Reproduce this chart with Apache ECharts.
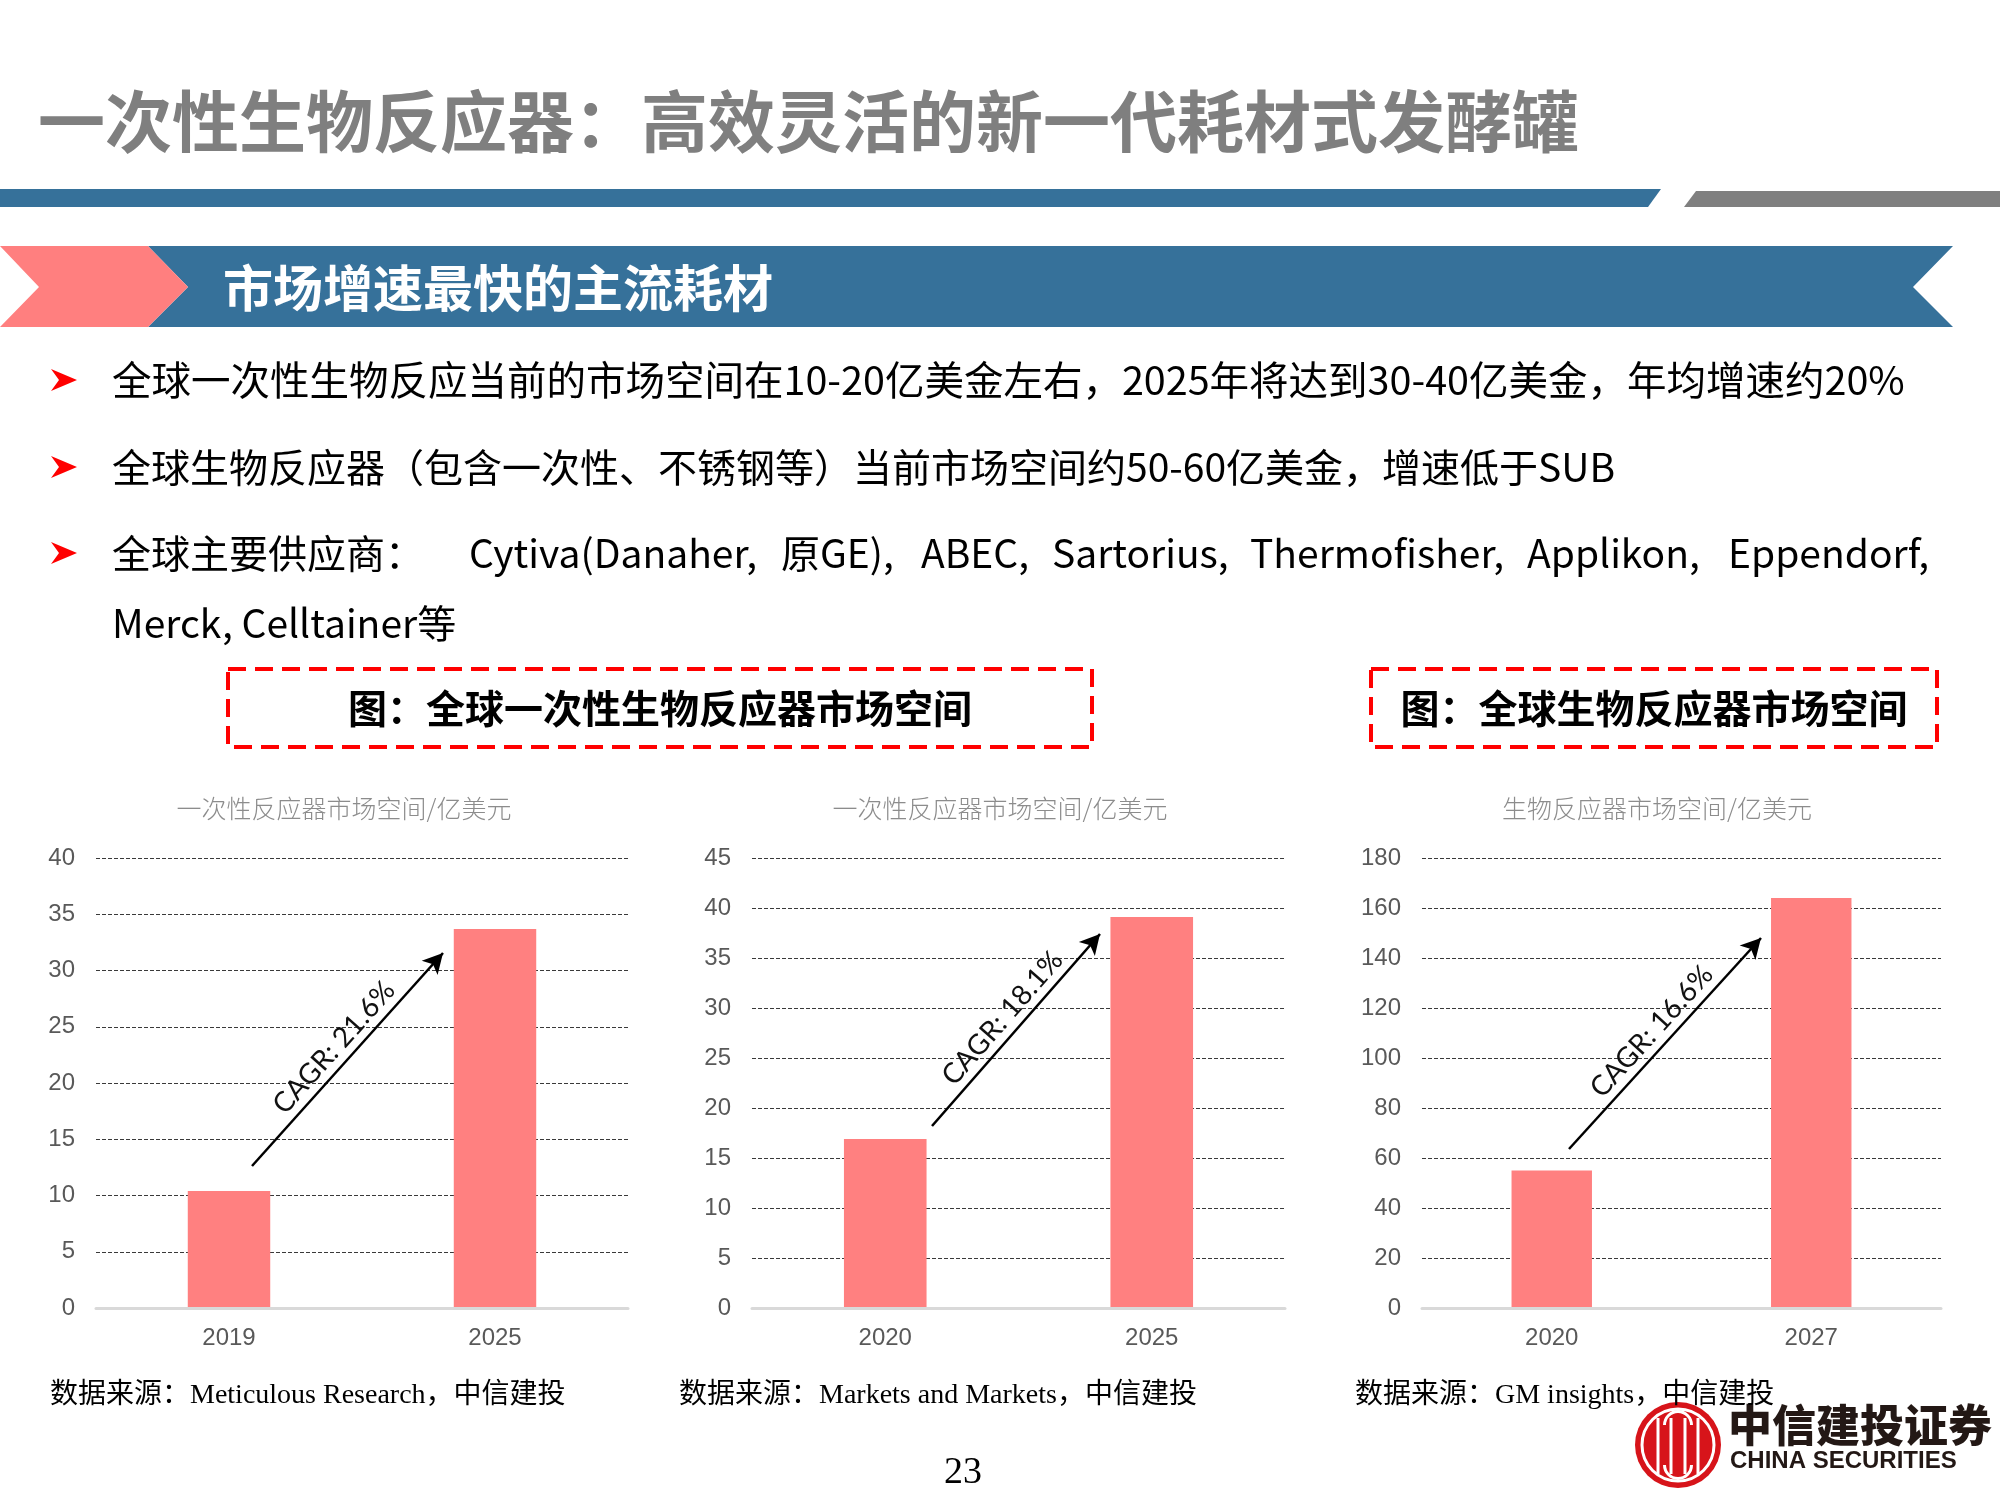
<!DOCTYPE html>
<html><head><meta charset="utf-8">
<script src="https://cdn.jsdelivr.net/npm/echarts@6/dist/echarts.min.js"></script>
<style>html,body{margin:0;padding:0;background:#fff}#main{width:2000px;height:1500px}</style>
</head><body><div id="main"></div>
<script>
// ---------- data ----------
const categories1 = ['2019', '2025'];
const values1 = [10.4, 33.7];
const categories2 = ['2020', '2025'];
const values2 = [16.9, 39.1];
const categories3 = ['2020', '2027'];
const values3 = [55, 164];
const axisMax = [40, 45, 180];
const axisInterval = [5, 5, 20];
const chartTitles = ['一次性反应器市场空间/亿美元', '一次性反应器市场空间/亿美元', '生物反应器市场空间/亿美元'];
const cagrLabels = ['CAGR: 21.6%', 'CAGR: 18.1%', 'CAGR: 16.6%'];
const sourceTexts = ['数据来源：Meticulous Research，中信建投', '数据来源：Markets and Markets，中信建投', '数据来源：GM insights，中信建投'];
const pageTitle = '一次性生物反应器：高效灵活的新一代耗材式发酵罐';
const sectionTitle = '市场增速最快的主流耗材';
const bullet1 = '全球一次性生物反应当前的市场空间在10-20亿美金左右，2025年将达到30-40亿美金，年均增速约20%';
const bullet2 = '全球生物反应器（包含一次性、不锈钢等）当前市场空间约50-60亿美金，增速低于SUB';
const bullet3Words = ['全球主要供应商：', 'Cytiva(Danaher,', '原GE),', 'ABEC,', 'Sartorius,', 'Thermofisher,', 'Applikon,', 'Eppendorf,'];
const bullet4 = 'Merck, Celltainer等';
const boxTitles = ['图：全球一次性生物反应器市场空间', '图：全球生物反应器市场空间'];
const pageNumber = '23';

// ---------- layout (not data) ----------
const grids = [
  {left: 96, top: 858, width: 532, height: 450},
  {left: 752, top: 858, width: 533, height: 450},
  {left: 1422, top: 858, width: 519, height: 450}
];
const titleCenters = [344, 1000, 1657];
const sourceX = [50, 679, 1355];
const arrowPts = [
  [[252, 1166], [443, 953]],
  [[932, 1126], [1100, 934]],
  [[1569, 1149], [1761, 938]]
];
const bullet3X = [112, 469, 781, 921, 1052, 1250, 1527, 1728];
const bulletY = [380, 467, 553];

const cats = [categories1, categories2, categories3];
const vals = [values1, values2, values3];
const CJK = "'Noto Sans CJK SC', sans-serif";
const BLUE = '#36719A';

const xAxes = [], yAxes = [], series = [];
for (let i = 0; i < 3; i++) {
  xAxes.push({
    type: 'category', gridIndex: i, data: cats[i], z: 5,
    axisLine: {lineStyle: {color: '#D9D9D9', width: 3}},
    axisTick: {show: false},
    axisLabel: {color: '#595959', fontSize: 24, margin: 18, fontFamily: "'Liberation Sans', Arial"}
  });
  yAxes.push({
    type: 'value', gridIndex: i, min: 0, max: axisMax[i], interval: axisInterval[i],
    axisLine: {show: false}, axisTick: {show: false},
    axisLabel: {color: '#595959', fontSize: 24, margin: 21, fontFamily: "'Liberation Sans', Arial"},
    splitLine: {lineStyle: {color: '#3a3a3a', width: 1, type: [4, 2]}}
  });
  series.push({
    type: 'bar', xAxisIndex: i, yAxisIndex: i, data: vals[i], barWidth: '31%',
    itemStyle: {color: '#FF8080'},
    markLine: {
      silent: true, symbol: ['none', 'arrow'], symbolSize: [16, 20],
      lineStyle: {color: '#000', width: 2.5, type: 'solid'},
      label: {show: true, position: 'insideMiddleTop', formatter: cagrLabels[i], color: '#111',
        fontSize: 28, fontFamily: "Lato, 'Open Sans', sans-serif", distance: 4},
      data: [[{x: arrowPts[i][0][0], y: arrowPts[i][0][1]}, {x: arrowPts[i][1][0], y: arrowPts[i][1][1]}]]
    }
  });
}

const g = [];
function txt(x, y, text, o) {
  g.push({type: 'text', x: x, y: y, z: o.z || 10, style: Object.assign({text: text, fontFamily: CJK, fill: '#000', verticalAlign: 'middle', align: 'left'}, o.style)});
}
function poly(points, fill, z) {
  g.push({type: 'polygon', z: z || 1, shape: {points: points}, style: {fill: fill}});
}
// header bars
poly([[0, 189], [1661, 189], [1648, 207], [0, 207]], BLUE);
poly([[1696, 191], [2000, 191], [2000, 207], [1684, 207]], '#7F7F7F');
txt(38, 122, pageTitle, {style: {fontSize: 67, fontWeight: 'bold', fill: '#7F7F7F'}});
// banner
poly([[148, 246], [1953, 246], [1913, 287], [1953, 327], [148, 327], [188, 287]], BLUE);
poly([[0, 246], [148, 246], [188, 287], [148, 327], [0, 327], [39, 287]], '#FF7F7F');
txt(223, 288, sectionTitle, {style: {fontSize: 50, fontWeight: 'bold', fill: '#fff'}});
// bullets
bulletY.forEach(function (y) {
  poly([[51, y - 11], [77, y], [51, y + 11], [59, y]], '#FF0000');
});
txt(112, bulletY[0], bullet1, {style: {fontSize: 39.5}});
txt(112, bulletY[1], bullet2, {style: {fontSize: 39}});
bullet3Words.forEach(function (w, k) { txt(bullet3X[k], bulletY[2], w, {style: {fontSize: 39}}); });
txt(112, 623, bullet4, {style: {fontSize: 39}});
// dashed boxes
g.push({type: 'rect', z: 5, shape: {x: 228, y: 669, width: 864, height: 78}, style: {fill: null, stroke: '#FF0000', lineWidth: 4, lineDash: [18, 9]}});
g.push({type: 'rect', z: 5, shape: {x: 1371, y: 669, width: 566, height: 78}, style: {fill: null, stroke: '#FF0000', lineWidth: 4, lineDash: [18, 9]}});
txt(660, 708, boxTitles[0], {style: {fontSize: 39, fontWeight: 'bold', align: 'center'}});
txt(1654, 708, boxTitles[1], {style: {fontSize: 39, fontWeight: 'bold', align: 'center'}});
// chart titles
[0, 1, 2].forEach(function (i) {
  txt(titleCenters[i], 808, chartTitles[i], {style: {fontSize: 25, fill: '#8C8C8C', align: 'center', fontWeight: 300}});
});
// logo
g.push({type: 'circle', z: 20, shape: {cx: 1678, cy: 1445, r: 43}, style: {fill: '#D7141A'}});
g.push({type: 'circle', z: 21, shape: {cx: 1678, cy: 1445, r: 36}, style: {fill: null, stroke: '#fff', lineWidth: 3}});
[-20, -7, 7, 20].forEach(function (dx) {
  g.push({type: 'line', z: 21, shape: {x1: 1678 + dx, y1: 1418, x2: 1678 + dx, y2: 1474}, style: {stroke: '#fff', lineWidth: 3}});
});
g.push({type: 'arc', z: 21, shape: {cx: 1678, cy: 1425, r: 13.5, startAngle: Math.PI, endAngle: 2 * Math.PI}, style: {fill: null, stroke: '#fff', lineWidth: 3}});
g.push({type: 'arc', z: 21, shape: {cx: 1678, cy: 1465, r: 13.5, startAngle: 0, endAngle: Math.PI}, style: {fill: null, stroke: '#fff', lineWidth: 3}});
txt(1728, 1425, '中信建投证券', {z: 20, style: {fontSize: 44, fontWeight: 900, fill: '#231815', fontFamily: "'Noto Sans CJK SC'"}});
txt(1730, 1461, 'CHINA SECURITIES', {z: 20, style: {fontSize: 24, fontWeight: 'bold', fill: '#231815', fontFamily: "'Liberation Sans', Arial"}});
// sources
[0, 1, 2].forEach(function (i) {
  txt(sourceX[i], 1396, sourceTexts[i], {z: 30, style: {fontSize: 28, fontFamily: "'Liberation Serif', 'Noto Sans CJK SC', serif"}});
});
txt(963, 1473, pageNumber, {style: {fontSize: 38, align: 'center', fontFamily: "'Liberation Serif', serif"}});

const chart = echarts.init(document.getElementById('main'), null, {renderer: 'canvas'});
chart.setOption({
  animation: false,
  backgroundColor: '#fff',
  grid: grids,
  xAxis: xAxes,
  yAxis: yAxes,
  series: series,
  graphic: {elements: g}
});
</script>
</body></html>
